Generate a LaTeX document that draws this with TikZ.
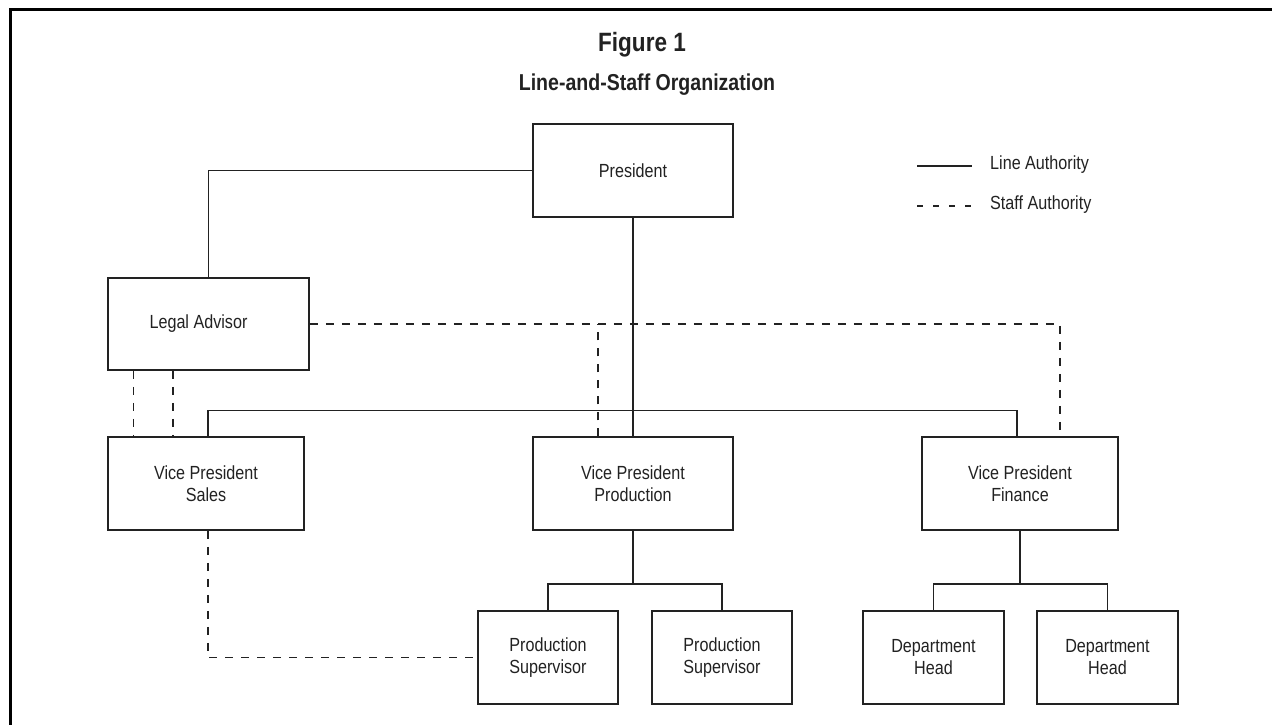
\documentclass[tikz,border=0pt]{standalone}
\usepackage{fontspec}
\setmainfont{Liberation Sans}[FakeStretch=0.85]
\usetikzlibrary{calc}
\definecolor{ink}{HTML}{222222}
\tikzset{
  orgbox/.style={draw=ink, line width=1.5pt, fill=white, text=ink, align=center,
    inner sep=0pt, font=\fontsize{19}{22}\selectfont},
  line/.style={draw=ink, line width=1.5pt},
  staff/.style={draw=ink, line width=1.5pt, dash pattern=on 8pt off 8pt},
  legendtext/.style={text=ink, anchor=west, inner sep=0pt, font=\fontsize{19}{22}\selectfont}
}
\begin{document}
\begin{tikzpicture}[x=1pt, y=-1pt]
\useasboundingbox (0,0) rectangle (1272,725);
\fill[white] (0,0) rectangle (1272,725);

% outer frame (left and top rules)
\draw[black, line width=3pt] (10.5,725) -- (10.5,9.5) -- (1272,9.5);

% titles
\node[text=ink, font=\bfseries\fontsize{26.5}{30}\selectfont] (title) at (642,45) {Figure 1};
\node[text=ink, font=\bfseries\fontsize{23}{26}\selectfont] (subtitle) at (647,85) {Line-and-Staff Organization};

% boxes
\node[orgbox, minimum width=200pt, minimum height=93pt] (pres)  at (633,170.5) {President};
\node[orgbox, minimum width=201pt, minimum height=92pt] (legal) at (208.5,324) {Legal Advisor\hspace*{20pt}};
\node[orgbox, minimum width=196pt, minimum height=93pt] (vps)   at (206,483.5) {Vice President\\Sales};
\node[orgbox, minimum width=200pt, minimum height=93pt] (vpp)   at (633,483.5) {Vice President\\Production};
\node[orgbox, minimum width=196pt, minimum height=93pt] (vpf)   at (1020,483.5) {Vice President\\Finance};
\node[orgbox, minimum width=140pt, minimum height=93pt] (ps1)   at (548,657.5) {Production\\Supervisor};
\node[orgbox, minimum width=140pt, minimum height=93pt] (ps2)   at (722,657.5) {Production\\Supervisor};
\node[orgbox, minimum width=141pt, minimum height=93pt] (dh1)   at (933.5,657.5) {Department\\Head};
\node[orgbox, minimum width=141pt, minimum height=93pt] (dh2)   at (1107.5,657.5) {Department\\Head};

% bus junctions
\coordinate (pbus) at (633,584);
\coordinate (fbus) at (1020,584);

% line authority
\draw[line] (pres.west) -| (legal.north);
\draw[line] (pres.south) -- (vpp.north);
\draw[line] ([xshift=2pt]vps.north) -- ++(0,-26) -| ([xshift=-3pt]vpf.north);
\draw[line] (vpp.south) -- (pbus);
\draw[line] (ps1.north) |- (pbus) -| (ps2.north);
\draw[line] (vpf.south) -- (fbus);
\draw[line] (dh1.north) |- (fbus) -| (dh2.north);

% staff authority
\draw[staff] (legal.east) -| ([xshift=40pt]vpf.north);
\draw[staff] ([xshift=-35pt]vpp.north) -- ([xshift=-35pt]vpp.north |- legal.east);
\draw[staff] ([xshift=-75pt]legal.south) -- ([xshift=-75pt]legal.south |- vps.north);
\draw[staff] ([xshift=-35.5pt]legal.south) -- ([xshift=-35.5pt]legal.south |- vps.north);
\draw[staff] ([xshift=2pt]vps.south) |- (ps1.west);

% legend
\coordinate (ls1) at (917,166);
\coordinate (ls2) at (972,166);
\coordinate (ld1) at (917,206);
\coordinate (ld2) at (972,206);
\draw[line] (ls1) -- (ls2);
\draw[staff, dash pattern=on 6pt off 10pt] (ld1) -- (ld2);
\node[legendtext] (lline) at (990,165) {Line Authority};
\node[legendtext] (lstaff) at (990,205) {Staff Authority};
\end{tikzpicture}
\end{document}
